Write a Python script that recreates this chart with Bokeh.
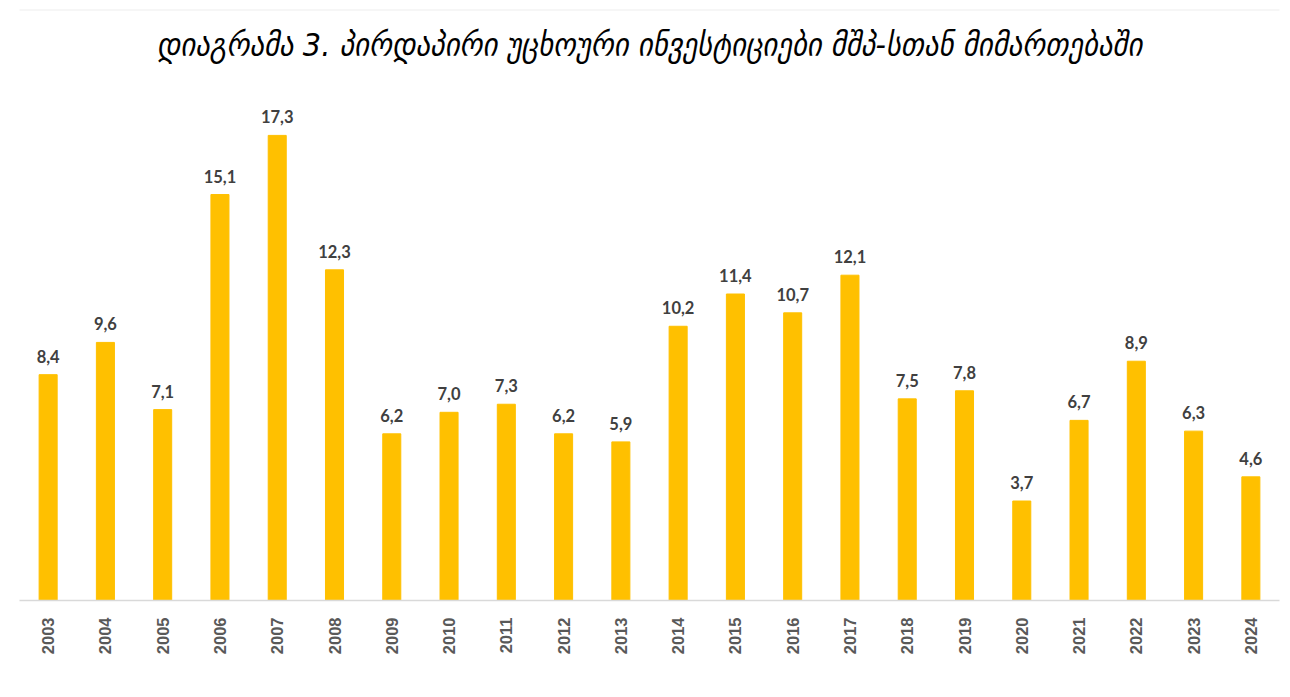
import math
from bokeh.plotting import figure
from bokeh.models import ColumnDataSource, Label, Range1d, FactorRange, BoxAnnotation
from bokeh.core.properties import value
from bokeh.embed import file_html
from bokeh.resources import INLINE

years = ["2003", "2004", "2005", "2006", "2007", "2008", "2009", "2010", "2011", "2012", "2013",
         "2014", "2015", "2016", "2017", "2018", "2019", "2020", "2021", "2022", "2023", "2024"]
fdi_pct_gdp = [8.4, 9.6, 7.1, 15.1, 17.3, 12.3, 6.2, 7.0, 7.3, 6.2, 5.9,
               10.2, 11.4, 10.7, 12.1, 7.5, 7.8, 3.7, 6.7, 8.9, 6.3, 4.6]
value_labels = [f"{v:.1f}".replace(".", ",") for v in fdi_pct_gdp]
title_text = "დიაგრამა 3. პირდაპირი უცხოური ინვესტიციები მშპ-სთან მიმართებაში"

source = ColumnDataSource(dict(year=years, v=fdi_pct_gdp, lab=value_labels))

p = figure(width=1290, height=697, x_range=FactorRange(*years, range_padding=0),
           y_range=Range1d(0, 22.02), output_backend="svg", toolbar_location=None,
           y_axis_location=None, min_border_left=19, min_border_right=11,
           min_border_top=8, min_border_bottom=97)
p.outline_line_color = None
p.xgrid.visible = False
p.ygrid.visible = False
p.background_fill_color = "white"
p.border_fill_color = "white"

p.vbar(x="year", top="v", width=0.315, color="#FFC000", source=source)
p.text(x="year", y="v", text="lab", source=source, text_align="center",
       text_baseline="bottom", y_offset=-12, text_font=value("Lato"),
       text_font_style="bold", text_font_size="16.5px", text_color="#404040")

ax = p.xaxis[0]
ax.axis_line_color = "#d9d9d9"
ax.axis_line_width = 1.5
ax.major_tick_line_color = None
ax.minor_tick_line_color = None
ax.major_label_orientation = math.pi / 2
ax.major_label_standoff = 11
ax.major_label_text_font = "Liberation Sans"
ax.major_label_text_font_style = "bold"
ax.major_label_text_font_size = "16.5px"
ax.major_label_text_color = "#595959"

p.add_layout(Label(x=11, y=20.68, text=title_text, text_align="center",
                   text_baseline="middle", text_font="DejaVu Sans Condensed",
                   text_font_style="italic", text_font_size="32px",
                   text_color="#000000"))

p.add_layout(BoxAnnotation(left=5, right=1287, top=9.5, bottom=2000,
                           left_units="canvas", right_units="canvas",
                           top_units="canvas", bottom_units="canvas",
                           fill_color=None, line_color="#d9d9d9", line_width=1.5))

open("out.html", "w").write(file_html(p, INLINE))
